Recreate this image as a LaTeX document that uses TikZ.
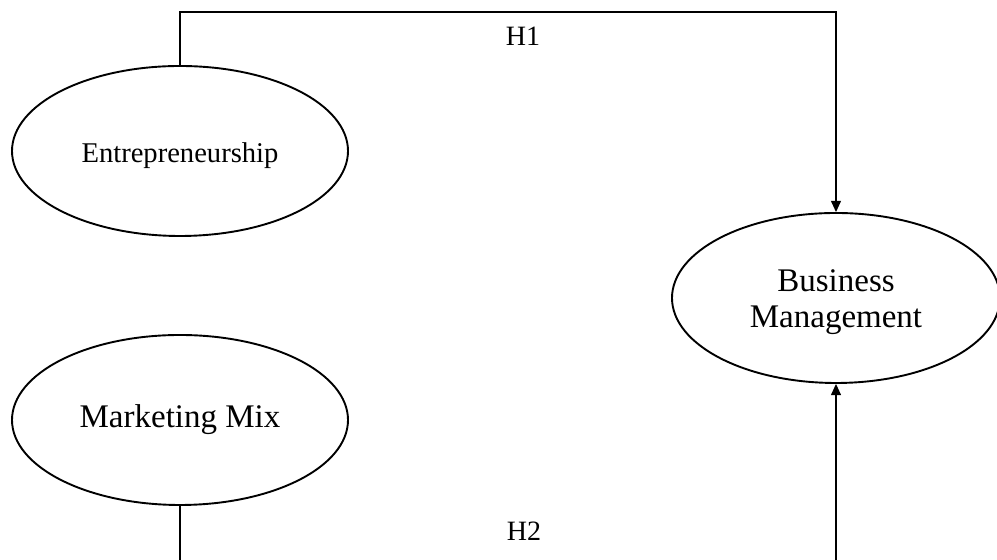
\documentclass[tikz,border=0pt]{standalone}
\usepackage{fontspec}
\setmainfont{Liberation Serif}
\usepackage{tikz}
\usetikzlibrary{shapes.geometric, arrows.meta, positioning}
\tikzstyle{construct} = [draw, ellipse, line width=0.95pt, inner sep=0pt,
   minimum width=168pt, minimum height=85pt, align=center]
\tikzstyle{link} = [line width=0.6pt, -{Triangle[length=5.6pt,width=5pt]}]
\tikzstyle{hyp} = [font=\fontsize{14}{16}\selectfont]

\begin{document}
\begin{tikzpicture}[x=0.5pt, y=0.5pt]
			\clip (0,0) rectangle (997,560);
			\node[construct, font=\fontsize{14.3}{17}\selectfont, text height=14.8pt] (ent) at (180,409) {Entrepreneurship};
			\node[construct, font=\fontsize{16.5}{18}\selectfont, below of=ent, node distance=134.5pt] (mix) {Marketing Mix};
			\node[construct, minimum width=164pt, font=\fontsize{16.5}{18}\selectfont, text height=33.3pt] (bm) at (836,262) {Business\\Management};

			% rails of the two paths
			\coordinate (topline) at (0,548);
			\coordinate (botline) at (0,-10);

			% H1 and H2 paths
			\draw[link] (ent.north) -- (ent.north |- topline) -- (bm.north |- topline) -- (bm.north);
			\draw[link] (mix.south) -- (mix.south |- botline) -- (bm.south |- botline) -- (bm.south);

			\node[hyp] (h1) at (523,524) {H1};
			\node[hyp] (h2) at (524,29) {H2};
		\end{tikzpicture}
\end{document}
